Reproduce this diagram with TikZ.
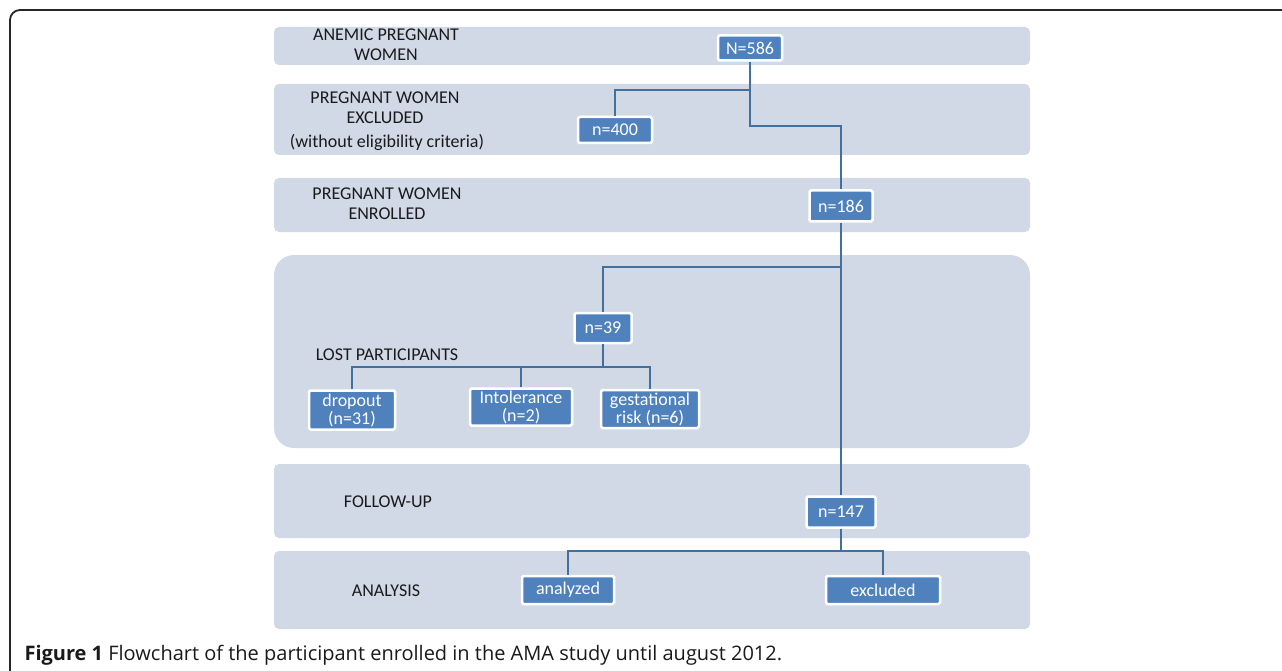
\documentclass[tikz,border=0pt]{standalone}
\usepackage{fontspec}
\setmainfont{Carlito}
\newfontfamily\capfont{Open Sans}
\definecolor{bandc}{HTML}{D1D9E7}
\definecolor{boxc}{HTML}{4F81BD}
\definecolor{linec}{HTML}{41709F}
\definecolor{txtc}{HTML}{1A1A1A}
\tikzset{
  band/.style={fill=bandc, draw=none, rounded corners=5pt},
  nbox/.style={fill=boxc, draw=white, line width=2.5pt, rounded corners=1.5pt, text=white,
     font=\fontsize{18}{18}\selectfont, inner sep=1pt, align=center},
  lab/.style={text=txtc, font=\fontsize{18}{20}\selectfont, align=center},
  conn/.style={draw=linec, line width=2.8pt}
}
\begin{document}
\begin{tikzpicture}[x=1pt,y=-1pt]
\useasboundingbox (0,0) rectangle (1282,671);
% outer frame
\draw[line width=1.8pt, black!85] (10,675) -- (10,20) arc[start angle=180,end angle=270,radius=10] -- (1290,10);
% bands
\fill[band] (274,27) rectangle (1030,65);
\fill[band] (274,84) rectangle (1030,155);
\fill[band] (274,178) rectangle (1030,232);
\fill[band, rounded corners=20pt] (274,255) rectangle (1030,448);
\fill[band] (274,464) rectangle (1030,538);
\fill[band] (274,551) rectangle (1030,629);
% band labels
\node[lab] (l1) at (386,45) {ANEMIC PREGNANT\\WOMEN};
\node[lab] (l2) at (385,108) {PREGNANT WOMEN\\EXCLUDED};
\node[lab] (l2b) at (387,142) {(without eligibility criteria)};
\node[lab] (l3) at (387,204) {PREGNANT WOMEN\\ENROLLED};
\node[lab] (l4) at (387,355) {LOST PARTICIPANTS};
\node[lab] (l5) at (388,502) {FOLLOW-UP};
\node[lab] (l6) at (386,591) {ANALYSIS};
% junction coordinates
\coordinate (j1) at (750,90);
\coordinate (j2) at (750,126);
\coordinate (j3) at (841,267);
\coordinate (j4) at (603,367);
\coordinate (j5) at (841,551);
% boxes
\node[nbox, minimum width=64pt, minimum height=25pt] (n586) at (750,48) {N=586};
\node[nbox, minimum width=74pt, minimum height=26pt] (n400) at (615,130) {n=400};
\node[nbox, minimum width=63pt, minimum height=31pt] (n186) at (841,206) {n=186};
\node[nbox, minimum width=57pt, minimum height=30pt] (n39) at (603,328) {n=39};
\node[nbox, minimum width=86pt, minimum height=39pt] (drop) at (352,410) {dropout\\(n=31)};
\node[nbox, minimum width=102pt, minimum height=37pt] (intol) at (521,407) {Intolerance\\(n=2)};
\node[nbox, minimum width=98pt, minimum height=38pt] (gest) at (650,409) {gestational\\risk (n=6)};
\node[nbox, minimum width=69pt, minimum height=31pt] (n147) at (841,512) {n=147};
\node[nbox, minimum width=92pt, minimum height=28pt] (anal) at (568,590) {analyzed};
\node[nbox, minimum width=114pt, minimum height=28pt] (excl) at (883,590) {excluded};
% connectors
\draw[conn] (n586.south) -- (j2) -| (n186.north);
\draw[conn] (j1) -| (n400.north);
\draw[conn] (n186.south) -- (n147.north);
\draw[conn] (j3) -| (n39.north);
\draw[conn] (n39.south) -- (j4);
\draw[conn] (drop.north) |- (gest.north |- j4) -- (gest.north);
\draw[conn] (intol.north) -- (intol.north |- j4);
\draw[conn] (n147.south) -- (j5);
\draw[conn] (anal.north) |- (excl.north |- j5) -- (excl.north);
% caption
\node[anchor=west, text=txtc, font=\capfont\fontsize{20}{22}\selectfont] (cap) at (21,655)
  {\textbf{Figure 1} Flowchart of the participant enrolled in the AMA study until august 2012.};
\end{tikzpicture}
\end{document}
